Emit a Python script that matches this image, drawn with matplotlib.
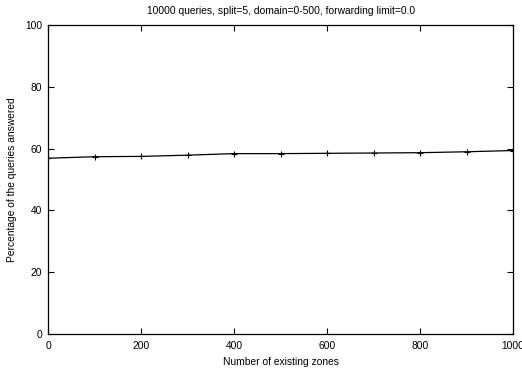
import matplotlib
matplotlib.use("Agg")
import matplotlib.pyplot as plt

plt.rcParams['font.family'] = ['Liberation Sans', 'DejaVu Sans']
plt.rcParams['font.size'] = 7.4

# data
zones = [0, 100, 200, 300, 400, 500, 600, 700, 800, 900, 1000]
answered = [56.9, 57.4, 57.5, 57.9, 58.4, 58.4, 58.5, 58.6, 58.7, 59.0, 59.4]

fig = plt.figure(figsize=(5.22, 3.68), dpi=100)
ax = fig.add_axes([0.092, 0.092, 0.891, 0.840])

ax.plot(zones, answered, color='black', linewidth=0.9, marker='+',
        markersize=4, markeredgewidth=0.8)

ax.set_xlim(0, 1000)
ax.set_ylim(0, 100)
ax.set_xticks([0, 200, 400, 600, 800, 1000])
ax.set_yticks([0, 20, 40, 60, 80, 100])
ax.tick_params(direction='in', top=True, right=True, length=4, width=0.8)
ax.tick_params(axis='x', pad=5)
ax.tick_params(axis='y', pad=4)
for s in ax.spines.values():
    s.set_linewidth(0.9)

ax.set_title("10000 queries, split=5, domain=0-500, forwarding limit=0.0",
             fontsize=7.4, pad=8)
ax.set_xlabel("Number of existing zones", labelpad=4)
ax.set_ylabel("Percentage of the queries answered", labelpad=6)

fig.savefig("out.png", dpi=100)
